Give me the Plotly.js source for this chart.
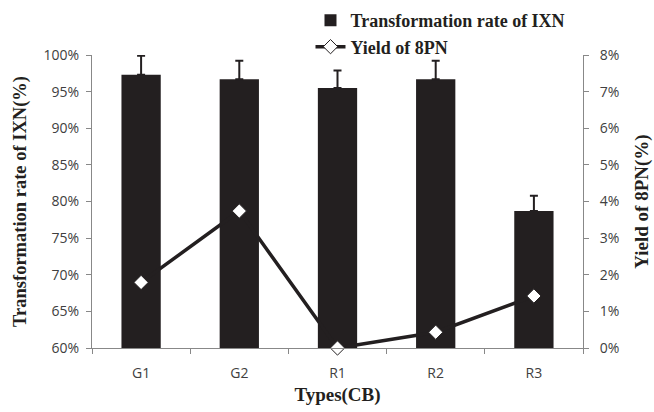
<!DOCTYPE html>
<html>
<head>
<meta charset="utf-8">
<script src="https://cdn.plot.ly/plotly-3.0.1.min.js"></script>
<style>html,body{margin:0;padding:0;background:#fff;}#chart{width:654px;height:412px;}</style>
</head>
<body>
<div id="chart"></div>
<script>
var categories = ["G1", "G2", "R1", "R2", "R3"];
var transformationRate = [0.973, 0.967, 0.955, 0.967, 0.787];
var transformationErr = [0.026, 0.025, 0.024, 0.025, 0.021];
var yield8PN = [0.0179, 0.0374, 0.0, 0.0043, 0.0142];
var leftTicks = [0.60, 0.65, 0.70, 0.75, 0.80, 0.85, 0.90, 0.95, 1.00];
var rightTicks = [0, 0.01, 0.02, 0.03, 0.04, 0.05, 0.06, 0.07, 0.08];

var serif = "Liberation Serif, Times New Roman, serif";
var sans = "Open Sans, Lato, sans-serif";

var traces = [
  {
    type: "bar",
    name: "Transformation rate of IXN",
    x: categories,
    y: transformationRate,
    marker: {color: "#231f20"},
    width: 0.4,
    error_y: {type: "data", symmetric: false, array: transformationErr, arrayminus: transformationErr.map(function(){return 0;}), color: "#231f20", thickness: 2, width: 4},
    yaxis: "y"
  },
  {
    type: "scatter",
    mode: "lines+markers",
    name: "Yield of 8PN",
    x: categories,
    y: yield8PN,
    yaxis: "y2",
    cliponaxis: false,
    line: {color: "#231f20", width: 3.5},
    marker: {symbol: "diamond", size: 11, color: "#ffffff", line: {color: "#231f20", width: 1}}
  }
];

var layout = {
  width: 654,
  height: 412,
  margin: {l: 92, r: 71, t: 55, b: 64, autoexpand: false},
  paper_bgcolor: "#fff",
  plot_bgcolor: "#fff",
  showlegend: true,
  legend: {x: 0.445, y: 0.995, yref: "container", xanchor: "left", yanchor: "top", bgcolor: "rgba(0,0,0,0)",
           font: {family: serif, size: 18, color: "#231f20", weight: "bold"}, tracegroupgap: 0, itemwidth: 30},
  xaxis: {
    type: "category",
    tickson: "boundaries",
    ticks: "outside",
    ticklen: 5,
    tickcolor: "#888",
    showline: true,
    linecolor: "#888",
    linewidth: 1,
    showgrid: false,
    zeroline: false,
    ticklabelstandoff: 12,
    tickfont: {family: sans, size: 14, color: "#404040"},
    title: {text: "Types(CB)", font: {family: serif, size: 19, color: "#231f20", weight: "bold"}, standoff: 6}
  },
  yaxis: {
    range: [0.6, 1.0],
    tickvals: leftTicks,
    tickformat: ".0%",
    ticks: "outside",
    ticklen: 5,
    tickcolor: "#888",
    showline: true,
    linecolor: "#888",
    showgrid: false,
    zeroline: false,
    ticklabelstandoff: 4,
    tickfont: {family: sans, size: 14, color: "#404040"},
    title: {text: "Transformation rate of IXN(%)", font: {family: serif, size: 18.5, color: "#231f20", weight: "bold"}, standoff: 12}
  },
  yaxis2: {
    overlaying: "y",
    side: "right",
    range: [0, 0.08],
    tickvals: rightTicks,
    tickformat: ".0%",
    ticks: "outside",
    ticklen: 5,
    tickcolor: "#888",
    showline: true,
    linecolor: "#888",
    showgrid: false,
    zeroline: false,
    ticklabelstandoff: 8,
    tickfont: {family: sans, size: 14, color: "#404040"},
    title: {text: "Yield of 8PN(%)", font: {family: serif, size: 19, color: "#231f20", weight: "bold"}, standoff: 16}
  }
};

Plotly.newPlot("chart", traces, layout, {displayModeBar: false, staticPlot: true});
</script>
</body>
</html>
